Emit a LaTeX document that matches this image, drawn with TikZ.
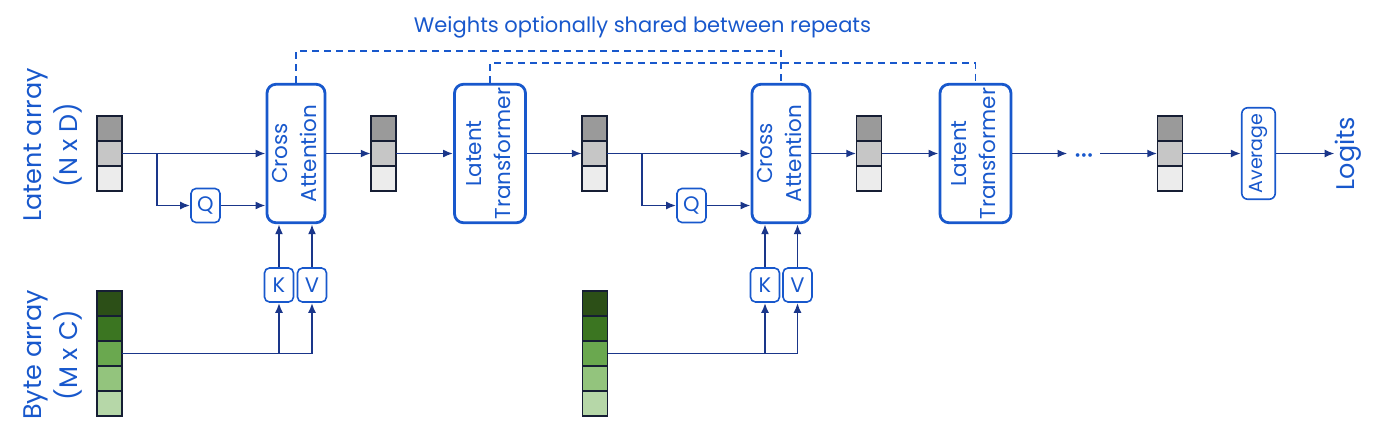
\documentclass[tikz,border=0pt]{standalone}
\usepackage{fontspec}
\setmainfont{Poppins}
\usetikzlibrary{positioning,arrows.meta}

\definecolor{boxblue}{RGB}{24,88,204}
\definecolor{navy}{RGB}{26,54,138}
\definecolor{celledge}{RGB}{22,30,52}
\definecolor{latA}{RGB}{154,154,154}
\definecolor{latB}{RGB}{198,198,198}
\definecolor{latC}{RGB}{236,236,236}
\definecolor{byteA}{RGB}{44,79,23}
\definecolor{byteB}{RGB}{59,117,33}
\definecolor{byteC}{RGB}{106,168,79}
\definecolor{byteD}{RGB}{147,196,125}
\definecolor{byteE}{RGB}{182,215,168}

\tikzset{
  arr/.style={draw=navy, line width=1.9pt, -{Latex[length=10pt,width=8pt]}},
  shared/.style={draw=boxblue, line width=1.7pt, dash pattern=on 7pt off 5pt},
  block/.style={draw=boxblue, line width=2.8pt, rounded corners=9pt, minimum height=138.5pt,
    inner sep=0pt, text=boxblue, font=\fontsize{21.5}{29}\selectfont},
  proj/.style={draw=boxblue, line width=1.6pt, rounded corners=5pt, minimum width=29pt,
    minimum height=34pt, inner sep=0pt, text=boxblue, font=\fontsize{21}{24}\selectfont},
  cellcol/.style={minimum width=25pt, inner sep=0pt},
  cell/.style={draw=celledge, line width=1.4pt},
  lbl/.style={text=boxblue, inner sep=0pt, font=\fontsize{25.5}{36}\selectfont}
}

\begin{document}
\begin{tikzpicture}[x=1pt,y=-1pt]
\useasboundingbox (0,0) rectangle (1400,445);

\def\ymain{153.5}
\def\ybyte{353.5}
\def\yq{205.5}
\def\ykv{285}
\def\yshareA{51}
\def\yshareB{63}

% latent arrays
\foreach \n/\x in {lat1/109.5, lat2/383.5, lat3/594.5, lat4/869, lat5/1170} {
  \node[cellcol, minimum height=75pt] (\n) at (\x,\ymain) {};
  \foreach \c [count=\i from 0] in {latA,latB,latC}
    \filldraw[cell, fill=\c] ({\x-12.5},{116+25*\i}) rectangle ++(25,25);
}

% byte arrays
\foreach \n/\x in {byte1/109.5, byte2/595} {
  \node[cellcol, minimum height=125pt] (\n) at (\x,\ybyte) {};
  \foreach \c [count=\i from 0] in {byteA,byteB,byteC,byteD,byteE}
    \filldraw[cell, fill=\c] ({\x-12.5},{291+25*\i}) rectangle ++(25,25);
}

\node[lbl] (latlbl) at (52,145) {\rotatebox{90}{\begin{tabular}{@{}c@{}}Latent array\\(N x D)\end{tabular}}};
\node[lbl] (bytelbl) at (52,355) {\rotatebox{90}{\begin{tabular}{@{}c@{}}Byte array\\(M x C)\end{tabular}}};

% blocks
\node[block, minimum width=55.5pt] (ca1) at (296,\ymain) {\rotatebox{90}{\begin{tabular}{@{}c@{}}Cross\\Attention\end{tabular}}};
\node[block, minimum width=71pt] (lt1) at (490,\ymain) {\rotatebox{90}{\begin{tabular}{@{}c@{}}Latent\\Transformer\end{tabular}}};
\node[block, minimum width=55.5pt] (ca2) at (781,\ymain) {\rotatebox{90}{\begin{tabular}{@{}c@{}}Cross\\Attention\end{tabular}}};
\node[block, minimum width=71pt] (lt2) at (975.5,\ymain) {\rotatebox{90}{\begin{tabular}{@{}c@{}}Latent\\Transformer\end{tabular}}};

\node[proj] (q1) at (205.5,\yq) {Q};
\node[proj] (k1) at (279,\ykv) {K};
\node[proj] (v1) at (312,\ykv) {V};
\node[proj] (q2) at (691.5,\yq) {Q};
\node[proj] (k2) at (765,\ykv) {K};
\node[proj] (v2) at (797.5,\ykv) {V};

\node[proj, minimum width=33.5pt, minimum height=91.5pt, rounded corners=6pt,
  font=\fontsize{19}{22}\selectfont] (avg) at (1258.5,\ymain) {\rotatebox{90}{Average}};
\node[lbl] (logits) at (1348,\ymain) {\rotatebox{90}{Logits}};
\node[text=boxblue, inner xsep=7pt, inner ysep=0pt, text height=13pt, text depth=0pt,
  font=\fontsize{15}{15}\selectfont] (dots) at (1084,\ymain) {•••};

\node[text=boxblue, font=\fontsize{21}{24}\selectfont] (title) at (642.5,27) {Weights optionally shared between repeats};

% shared weights
\draw[shared] (ca1.north) -- (ca1.north |- 0,\yshareA) -| (ca2.north);
\draw[shared] (lt1.north) -- (lt1.north |- 0,\yshareB) -| (lt2.north);

% first repeat
\coordinate (br1) at (157,\ymain);
\draw[arr] (lat1) -- (ca1);
\draw[arr] (br1) |- (q1);
\draw[arr] (q1) -- (q1 -| ca1.west);
\draw[arr] (byte1.east) -| (v1.south);
\draw[arr] (k1 |- byte1) -- (k1.south);
\draw[arr] (k1) -- (k1 |- ca1.south);
\draw[arr] (v1) -- (v1 |- ca1.south);
\draw[arr] (ca1) -- (lat2);
\draw[arr] (lat2) -- (lt1);
\draw[arr] (lt1) -- (lat3);

% second repeat
\coordinate (br2) at (642,\ymain);
\draw[arr] (lat3) -- (ca2);
\draw[arr] (br2) |- (q2);
\draw[arr] (q2) -- (q2 -| ca2.west);
\draw[arr] (byte2.east) -| (v2.south);
\draw[arr] (k2 |- byte2) -- (k2.south);
\draw[arr] (k2) -- (k2 |- ca2.south);
\draw[arr] (v2) -- (v2 |- ca2.south);
\draw[arr] (ca2) -- (lat4);
\draw[arr] (lat4) -- (lt2);

% output
\draw[arr] (lt2) -- (dots);
\draw[arr] (dots) -- (lat5);
\draw[arr] (lat5) -- (avg);
\draw[arr] (avg) -- (logits);

\end{tikzpicture}
\end{document}
